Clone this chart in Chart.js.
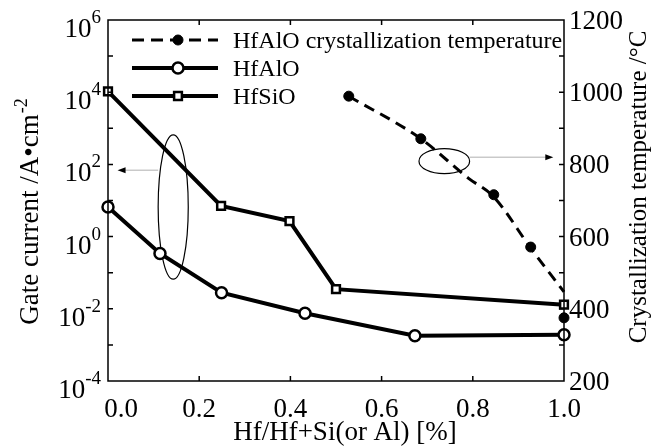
<!DOCTYPE html>
<html>
<head>
<meta charset="utf-8">
<script src="https://cdn.jsdelivr.net/npm/chart.js@4.4.0/dist/chart.umd.min.js"></script>
<style>
  html, body { margin: 0; padding: 0; background: #fff; }
  #wrap { width: 657px; height: 448px; }
</style>
</head>
<body>
<div id="wrap"><canvas id="chart"></canvas></div>
<script>
// composition Hf/(Hf+Si or Al)
const xHfAlO = [0.0, 0.114, 0.249, 0.432, 0.673, 1.0];
const gateHfAlO = [6.6, 0.34, 0.028, 0.0075, 0.0018, 0.0019];
const xHfSiO = [0.0, 0.248, 0.398, 0.5, 1.0];
const gateHfSiO = [10500, 7.1, 2.7, 0.035, 0.013];
// HfAlO crystallization temperature: measured points + dashed trend
const xCryst = [0.528, 0.686, 0.846, 0.927, 1.0];
const tempCryst = [989, 871, 716, 571, 375];
const xTrend = [0.528, 0.686, 0.79, 0.846, 0.927, 1.0];
const tempTrend = [989, 871, 762, 710, 568, 447];

const xTicks = [0.0, 0.2, 0.4, 0.6, 0.8, 1.0];
const leftExps = [6, 4, 2, 0, -2, -4];
const rightTicks = [200, 400, 600, 800, 1000, 1200];

const legendLabels = ["HfAlO crystallization temperature", "HfAlO", "HfSiO"];
const xTitle = "Hf/Hf+Si(or Al) [%]";
const yTitle = "Gate current /A\u2022cm";
const yTitleSup = "-2";
const y2Title = "Crystallization temperature /\u00B0C";

const FONT = '"Liberation Serif", "Times New Roman", serif';
const pts = (xs, ys) => xs.map((x, i) => ({ x: x, y: ys[i] }));

function arrow(ctx, x0, y, x1) {
  const dir = Math.sign(x1 - x0);
  ctx.save();
  ctx.strokeStyle = '#b0b0b0';
  ctx.lineWidth = 1;
  ctx.beginPath();
  ctx.moveTo(x0, y);
  ctx.lineTo(x1 - dir * 6, y);
  ctx.stroke();
  ctx.fillStyle = '#000';
  ctx.beginPath();
  ctx.moveTo(x1, y);
  ctx.lineTo(x1 - dir * 8, y - 3);
  ctx.lineTo(x1 - dir * 8, y + 3);
  ctx.closePath();
  ctx.fill();
  ctx.restore();
}

const decor = {
  id: 'decor',
  beforeDatasetsDraw(chart) {
    const ctx = chart.ctx;
    const xs = chart.scales.x, yl = chart.scales.y, yr = chart.scales.yR;
    ctx.save();
    ctx.strokeStyle = '#000';
    ctx.lineWidth = 1.2;
    // left ellipse -> left axis
    let cx = xs.getPixelForValue(0.143);
    let rx = xs.getPixelForValue(0.176) - cx;
    let yt = yl.getPixelForValue(Math.pow(10, 2.82));
    let yb = yl.getPixelForValue(Math.pow(10, -1.18));
    ctx.beginPath();
    ctx.ellipse(cx, (yt + yb) / 2, rx, (yb - yt) / 2, 0, 0, Math.PI * 2);
    ctx.stroke();
    arrow(ctx, cx - rx, yl.getPixelForValue(Math.pow(10, 1.84)), xs.getPixelForValue(0.021));
    // right ellipse -> right axis
    cx = xs.getPixelForValue(0.7375);
    rx = xs.getPixelForValue(0.793) - cx;
    yt = yr.getPixelForValue(809 + 34.6);
    yb = yr.getPixelForValue(809 - 34.6);
    ctx.beginPath();
    ctx.ellipse(cx, (yt + yb) / 2, rx, (yb - yt) / 2, 0, 0, Math.PI * 2);
    ctx.stroke();
    arrow(ctx, cx + rx, yr.getPixelForValue(820), xs.getPixelForValue(0.9765));
    ctx.restore();
  },
  afterDraw(chart) {
    const ctx = chart.ctx;
    const a = chart.chartArea;
    const xs = chart.scales.x, yl = chart.scales.y, yr = chart.scales.yR;
    ctx.save();
    ctx.strokeStyle = '#000';
    ctx.fillStyle = '#000';
    ctx.lineWidth = 1.5;
    ctx.strokeRect(a.left, a.top, a.right - a.left, a.bottom - a.top);

    // inward tick marks
    ctx.beginPath();
    for (let k = -3; k <= 5; k++) {
      const y = yl.getPixelForValue(Math.pow(10, k));
      ctx.moveTo(a.left, y); ctx.lineTo(a.left + 5, y);
    }
    for (let t = 300; t <= 1100; t += 100) {
      const y = yr.getPixelForValue(t);
      ctx.moveTo(a.right, y); ctx.lineTo(a.right - 5, y);
    }
    xTicks.slice(1, -1).forEach(v => {
      const x = xs.getPixelForValue(v);
      ctx.moveTo(x, a.bottom); ctx.lineTo(x, a.bottom - 5);
      ctx.moveTo(x, a.top); ctx.lineTo(x, a.top + 5);
    });
    ctx.stroke();

    // x tick labels
    ctx.font = '27px ' + FONT;
    ctx.textAlign = 'center';
    ctx.textBaseline = 'alphabetic';
    xTicks.forEach((v, i) => {
      let x = xs.getPixelForValue(v);
      if (i === 0) x += 13;
      ctx.fillText(v.toFixed(1), x, a.bottom + 36);
    });

    // left tick labels 10^n
    ctx.textAlign = 'left';
    leftExps.forEach(e => {
      const y = yl.getPixelForValue(Math.pow(10, e));
      ctx.font = '19px ' + FONT;
      const we = ctx.measureText(String(e)).width;
      ctx.font = '27px ' + FONT;
      const wb = ctx.measureText('10').width;
      const xr = a.left - 7;
      ctx.fillText('10', xr - we - wb, y + 17);
      ctx.font = '19px ' + FONT;
      ctx.fillText(String(e), xr - we, y + 3);
    });

    // right tick labels
    ctx.font = '27px ' + FONT;
    rightTicks.forEach(t => {
      ctx.fillText(String(t), a.right + 5, yr.getPixelForValue(t) + 9);
    });

    // x title
    ctx.textAlign = 'center';
    ctx.fillText(xTitle, 345, 440);

    // left title (rotated, with superscript)
    ctx.save();
    ctx.translate(38, 212);
    ctx.rotate(-Math.PI / 2);
    ctx.font = '27px ' + FONT;
    const w1 = ctx.measureText(yTitle).width;
    ctx.font = '18px ' + FONT;
    const w2 = ctx.measureText(yTitleSup).width;
    const start = -(w1 + w2) / 2;
    ctx.textAlign = 'left';
    ctx.font = '27px ' + FONT;
    ctx.fillText(yTitle, start, 0);
    ctx.font = '18px ' + FONT;
    ctx.fillText(yTitleSup, start + w1 + 1, -11);
    ctx.restore();

    // right title
    ctx.save();
    ctx.translate(646, 187);
    ctx.rotate(-Math.PI / 2);
    ctx.font = '25px ' + FONT;
    ctx.textAlign = 'center';
    ctx.fillText(y2Title, 0, 0);
    ctx.restore();

    // legend
    const rows = [40, 68, 96];
    const sets = [1, 2, 3];
    rows.forEach((ry, i) => {
      const ds = chart.data.datasets[sets[i]];
      ctx.save();
      ctx.lineWidth = i === 0 ? 3 : 4;
      ctx.strokeStyle = '#000';
      if (i === 0) ctx.setLineDash([12, 7]);
      ctx.beginPath();
      ctx.moveTo(132, ry); ctx.lineTo(218, ry);
      ctx.stroke();
      ctx.restore();
      ctx.save();
      ctx.lineWidth = ds.borderWidth === 3 ? 1 : ds.pointBorderWidth;
      ctx.strokeStyle = '#000';
      ctx.fillStyle = ds.pointBackgroundColor;
      Chart.helpers.drawPoint(ctx, {
        pointStyle: ds.pointStyle, radius: ds.pointRadius, rotation: 0, borderWidth: ctx.lineWidth
      }, 178, ry);
      ctx.restore();
      ctx.font = '24px ' + FONT;
      ctx.textAlign = 'left';
      ctx.textBaseline = 'middle';
      ctx.fillText(legendLabels[i], 233, ry + 2);
    });
    ctx.restore();
  }
};

new Chart(document.getElementById('chart'), {
  type: 'line',
  data: {
    datasets: [
      {
        label: 'trend',
        data: pts(xTrend, tempTrend),
        yAxisID: 'yR',
        borderColor: '#000',
        borderWidth: 3,
        borderDash: [11, 7],
        pointRadius: 0,
        cubicInterpolationMode: 'monotone',
        clip: false
      },
      {
        label: legendLabels[0],
        data: pts(xCryst, tempCryst),
        yAxisID: 'yR',
        showLine: false,
        borderWidth: 3,
        pointStyle: 'circle',
        pointRadius: 5,
        pointBorderWidth: 1,
        pointBorderColor: '#000',
        pointBackgroundColor: '#000',
        clip: false
      },
      {
        label: legendLabels[1],
        data: pts(xHfAlO, gateHfAlO),
        yAxisID: 'y',
        borderColor: '#000',
        borderWidth: 4,
        pointStyle: 'circle',
        pointRadius: 5.5,
        pointBorderWidth: 2.5,
        pointBorderColor: '#000',
        pointBackgroundColor: '#fff',
        clip: false
      },
      {
        label: legendLabels[2],
        data: pts(xHfSiO, gateHfSiO),
        yAxisID: 'y',
        borderColor: '#000',
        borderWidth: 4,
        pointStyle: 'rect',
        pointRadius: 5.5,
        pointBorderWidth: 2.5,
        pointBorderColor: '#000',
        pointBackgroundColor: '#fff',
        clip: false
      }
    ]
  },
  options: {
    responsive: true,
    maintainAspectRatio: false,
    animation: false,
    layout: { padding: { top: 20, left: 0, right: 0, bottom: 0 } },
    plugins: { legend: { display: false }, tooltip: { enabled: false } },
    scales: {
      x: {
        type: 'linear', position: 'bottom', min: 0, max: 1,
        ticks: { display: false }, grid: { display: false }, border: { display: false },
        afterFit(s) { s.height = 67; }
      },
      y: {
        type: 'logarithmic', position: 'left', min: 1e-4, max: 1e6,
        ticks: { display: false }, grid: { display: false }, border: { display: false },
        afterFit(s) { s.width = 108; }
      },
      yR: {
        type: 'linear', position: 'right', min: 200, max: 1200,
        ticks: { display: false }, grid: { display: false }, border: { display: false },
        afterFit(s) { s.width = 93; }
      }
    }
  },
  plugins: [decor]
});
</script>
</body>
</html>
